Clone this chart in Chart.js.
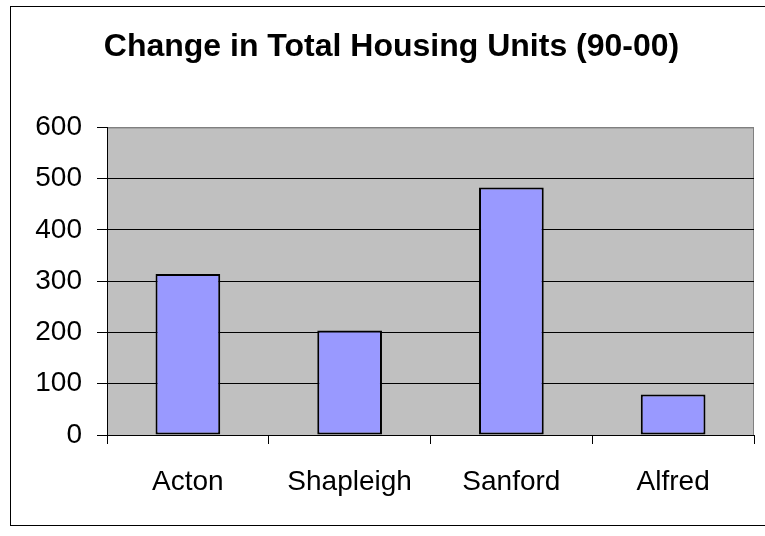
<!DOCTYPE html>
<html>
<head>
<meta charset="utf-8">
<script src="https://cdn.jsdelivr.net/npm/chart.js@4/dist/chart.umd.min.js"></script>
<style>
  html, body { margin: 0; padding: 0; background: #fff; overflow: hidden; }
  #frame { position: absolute; left: 10px; top: 6px; width: 800px; height: 518px; border: 1px solid #000; }
  #chart { position: absolute; left: 0; top: 0; }
</style>
</head>
<body>
<div id="frame"></div>
<canvas id="chart" width="765" height="536"></canvas>
<script>
const towns = ['Acton', 'Shapleigh', 'Sanford', 'Alfred']
const unitChange = [314, 204, 483, 79]
const yTicks = [0, 100, 200, 300, 400, 500, 600]

const fontFamily = "'Liberation Sans', Arial, sans-serif"

// gray plot area with a gray frame, like the spreadsheet default
const plotBackground = {
  id: 'plotBackground',
  beforeDraw: (chart) => {
    const { ctx, chartArea: a } = chart
    ctx.save()
    ctx.fillStyle = '#C0C0C0'
    ctx.fillRect(a.left, a.top, a.right - a.left, a.bottom - a.top)
    ctx.strokeStyle = '#808080'
    ctx.lineWidth = 1
    ctx.strokeRect(a.left + 0.5, a.top + 0.5, a.right - a.left - 1, a.bottom - a.top)
    ctx.restore()
  },
}

new Chart(document.getElementById('chart').getContext('2d'), {
  type: 'bar',
  data: {
    labels: towns,
    datasets: [
      {
        label: 'Change in Total Housing Units',
        data: unitChange,
        backgroundColor: '#9999FF',
        borderColor: '#000000',
        borderWidth: 2,
        borderSkipped: false,
        barPercentage: 0.4,
        categoryPercentage: 1.0,
      },
    ],
  },
  options: {
    responsive: false,
    animation: false,
    layout: { padding: { left: 29, right: 11, top: 0, bottom: 0 } },
    plugins: {
      legend: { display: false },
      tooltip: { enabled: false },
      title: {
        display: true,
        text: 'Change in Total Housing Units (90-00)',
        color: '#000',
        font: { family: fontFamily, size: 32, weight: 'bold' },
        padding: { top: 28, bottom: 61 },
      },
    },
    scales: {
      x: {
        grid: {
          offset: true,
          drawOnChartArea: false,
          drawTicks: true,
          tickLength: 9,
          tickColor: '#000',
        },
        border: { color: '#000', width: 1 },
        ticks: {
          color: '#000',
          padding: 21,
          font: { family: fontFamily, size: 28 },
          maxRotation: 0,
        },
        afterFit: (scale) => {
          scale.height = 101
        },
      },
      y: {
        min: 0,
        max: 600,
        afterBuildTicks: (scale) => {
          scale.ticks = yTicks.map((v) => ({ value: v }))
        },
        grid: {
          color: (c) => (c.tick && c.tick.value === 600 ? '#808080' : '#000'),
          lineWidth: 1,
          tickLength: 10,
          tickColor: '#000',
        },
        border: { color: '#000', width: 1 },
        ticks: {
          color: '#000',
          padding: 15,
          font: { family: fontFamily, size: 28 },
        },
        afterFit: (scale) => {
          scale.width = 78
        },
      },
    },
  },
  plugins: [plotBackground],
})
</script>
</body>
</html>
